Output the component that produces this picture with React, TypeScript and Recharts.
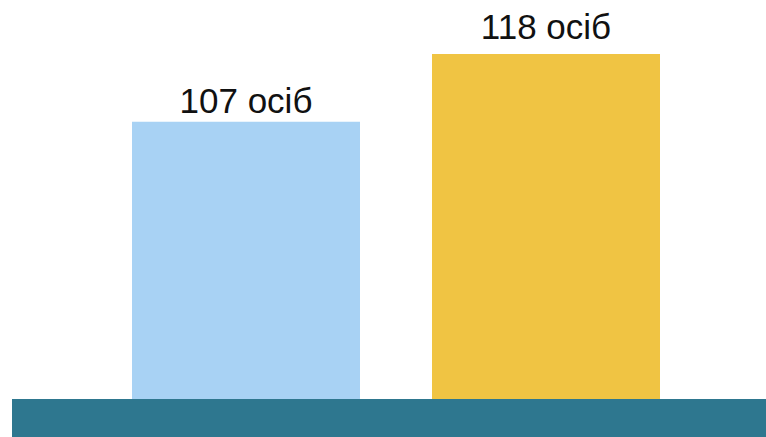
import { Bar, BarChart, Cell, LabelList, XAxis, YAxis } from "recharts";

const groups = ["Група 1", "Група 2"];
const people = [107, 118];
const colors = ["#A8D2F4", "#F0C443"];
const labelOffsets = [9, 15];

const data = groups.map((g, i) => ({ group: g, value: people[i] }));

const renderLabel = (props: any) => {
  const { x, y, width, value, index } = props;
  return (
    <text
      x={x + width / 2}
      y={y - labelOffsets[index]}
      textAnchor="middle"
      fill="#111"
      style={{ fontFamily: '"Liberation Sans", Arial, sans-serif', fontSize: 35 }}
    >
      {`${value} осіб`}
    </text>
  );
};

export default function App() {
  return (
    <div style={{ position: "absolute", left: 0, top: 0, width: 766, height: 437 }}>
      <BarChart
        width={766}
        height={399}
        data={data}
        margin={{ top: 17, right: 0, left: 12, bottom: 0 }}
        barCategoryGap={36}
      >
        <XAxis dataKey="group" hide padding={{ left: 84, right: 70 }} />
        <YAxis hide domain={[62, 124]} allowDataOverflow />
        <Bar dataKey="value" isAnimationActive={false}>
          {data.map((d, i) => (
            <Cell key={d.group} fill={colors[i]} />
          ))}
          <LabelList dataKey="value" content={renderLabel} />
        </Bar>
      </BarChart>
      <div
        style={{
          position: "absolute",
          left: 12,
          top: 399,
          width: 754,
          height: 38,
          background: "#2E778F",
        }}
      />
    </div>
  );
}
